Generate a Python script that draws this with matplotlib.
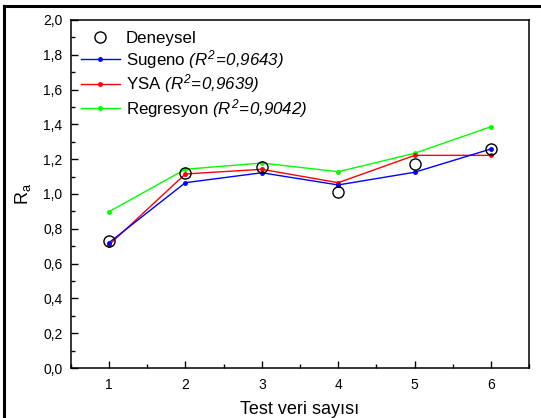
import matplotlib
matplotlib.use("Agg")
import matplotlib.pyplot as plt
from matplotlib.ticker import MultipleLocator, FuncFormatter
from matplotlib.lines import Line2D

plt.rcParams['font.family'] = ['Liberation Sans', 'DejaVu Sans']
plt.rcParams['mathtext.fontset'] = 'custom'
plt.rcParams['mathtext.rm'] = 'Liberation Sans:italic'
plt.rcParams['mathtext.it'] = 'Liberation Sans:italic'
plt.rcParams['mathtext.sf'] = 'Liberation Sans'
plt.rcParams['mathtext.bf'] = 'Liberation Sans:bold'

x = [1, 2, 3, 4, 5, 6]
deneysel = [0.728, 1.122, 1.153, 1.013, 1.172, 1.259]
sugeno = [0.720, 1.065, 1.122, 1.052, 1.125, 1.259]
ysa = [0.707, 1.115, 1.142, 1.065, 1.222, 1.222]
regresyon = [0.898, 1.142, 1.178, 1.128, 1.234, 1.387]

labels = ["Deneysel",
          r"Sugeno $(R^2\!=\!0{,}9643)$",
          r"YSA $(R^2\!=\!0{,}9639)$",
          r"Regresyon $(R^2\!=\!0{,}9042)$"]

fig = plt.figure(figsize=(5.41, 4.18), dpi=100)
ax = fig.add_axes([0.1307, 0.1196, 0.8477, 0.8326])

ax.plot(x, regresyon, color='#00ff00', lw=1.0, marker='o', ms=2.5, label=labels[3], zorder=2)
ax.plot(x, ysa, color='#ff0000', lw=1.0, marker='o', ms=2.5, label=labels[2], zorder=2)
ax.plot(x, sugeno, color='#0000ff', lw=1.0, marker='o', ms=2.5, label=labels[1], zorder=2)
ax.plot(x, deneysel, ls='none', marker='o', ms=8, mfc='none', mec='black', mew=1.0,
        label=labels[0], zorder=3)

ax.set_xlim(0.5, 6.5)
ax.set_ylim(0, 2.0)
ax.xaxis.set_major_locator(MultipleLocator(1))
ax.xaxis.set_minor_locator(MultipleLocator(0.5))
ax.yaxis.set_major_locator(MultipleLocator(0.2))
ax.yaxis.set_minor_locator(MultipleLocator(0.1))
ax.yaxis.set_major_formatter(FuncFormatter(lambda v, p: f"{v:.1f}".replace('.', ',')))
ax.xaxis.set_major_formatter(FuncFormatter(lambda v, p: f"{int(round(v))}"))
ax.tick_params(which='both', direction='in', top=False, right=False, width=1.0, labelsize=10)
ax.tick_params(which='major', length=5)
ax.tick_params(which='minor', length=3)
ax.tick_params(axis='x', pad=7)
ax.tick_params(axis='y', pad=6)
for s in ax.spines.values():
    s.set_linewidth(1.1)

ax.set_xlabel("Test veri sayısı", fontsize=13, labelpad=7)
ax.set_ylabel(r"$\mathsf{R_a}$", fontsize=13, labelpad=7)

handles, labs = ax.get_legend_handles_labels()
order = [3, 2, 1, 0]
leg = ax.legend([handles[i] for i in order], [labs[i] for i in order],
                loc='upper left', bbox_to_anchor=(0.0218, 0.968), frameon=False,
                fontsize=12.2, handlelength=2.3, handletextpad=0.35,
                labelspacing=0.1, borderpad=0, borderaxespad=0)

# figure border (top and left)
fig.add_artist(Line2D([4/541, 1.0], [1 - 6/418, 1 - 6/418], transform=fig.transFigure,
                      color='black', lw=2.2))
fig.add_artist(Line2D([4/541, 4/541], [0, 1 - 6/418], transform=fig.transFigure,
                      color='black', lw=2.2))

fig.savefig("out.png", dpi=100)
